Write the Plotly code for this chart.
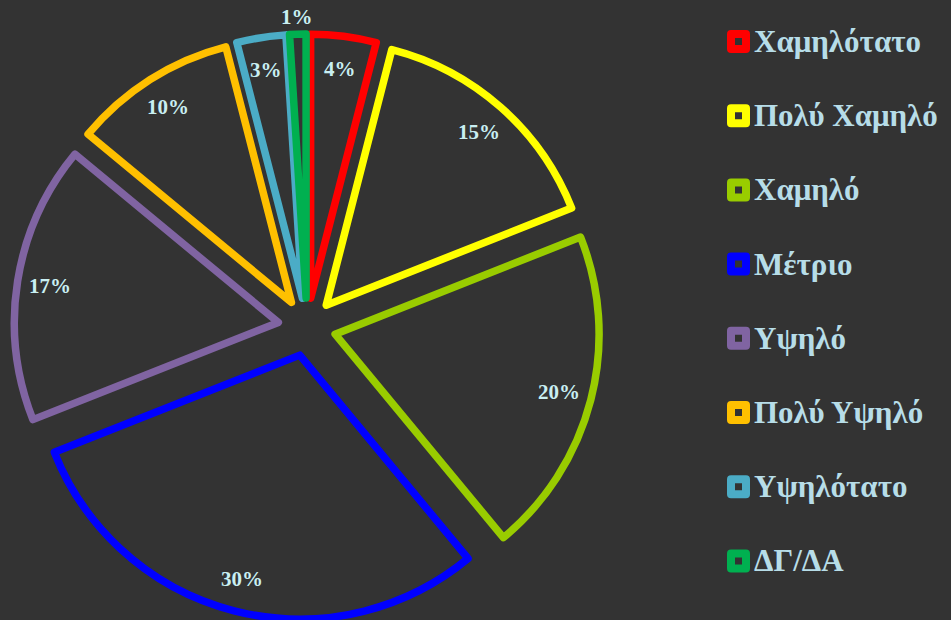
import math
import plotly.graph_objects as go

# Distribution of responses by level
categories = ["Χαμηλότατο", "Πολύ Χαμηλό", "Χαμηλό", "Μέτριο",
              "Υψηλό", "Πολύ Υψηλό", "Υψηλότατο", "ΔΓ/ΔΑ"]
values = [4, 15, 20, 30, 17, 10, 3, 1]
colors = ["#ff0000", "#ffff00", "#99cc00", "#0000ff",
          "#8064a2", "#ffc000", "#4bacc6", "#00b050"]

# Page / styling constants
W, H = 951, 620
BG = "#333333"
LABEL_COLOR = "#c9eff2"
LEGEND_COLOR = "#b7dde8"
FONT = "Liberation Serif"
PULL = 0.11
M_T = 34
DOM_X = (14 / W, 600 / W)

fig = go.Figure()
fig.add_trace(go.Pie(
    labels=categories,
    values=values,
    sort=False,
    direction="clockwise",
    rotation=0,
    pull=[PULL] * len(values),
    textinfo="none",
    hoverinfo="label+percent",
    marker=dict(colors=[BG] * len(values),
                line=dict(color=colors, width=7.5)),
    domain=dict(x=list(DOM_X), y=[0, 1]),
    showlegend=False,
))

# Pie geometry as Plotly lays it out (pixels)
plot_h = H - M_T
box_w = W * (DOM_X[1] - DOM_X[0])
r = min(box_w, plot_h) / (2 + 2 * PULL)
cx = W * (DOM_X[0] + DOM_X[1]) / 2
cy = M_T + plot_h / 2


def to_paper(px, py):
    return px / W, (H - py) / plot_h


total = sum(values)
annotations = []
cum = 0
for v in values:
    mid = (cum + v / 2) / total * 2 * math.pi
    cum += v
    frac = 0.875 if v / total >= 0.02 else 1.065
    dist = PULL * r + frac * r
    px = cx + dist * math.sin(mid)
    py = cy - dist * math.cos(mid)
    x, y = to_paper(px, py)
    annotations.append(dict(
        x=x, y=y, xref="paper", yref="paper", showarrow=False,
        text=f"{round(v / total * 100)}%",
        xanchor="center", yanchor="middle",
        font=dict(family=FONT, size=21, color=LABEL_COLOR, weight="bold"),
    ))

# Hand-drawn legend: hollow squares plus labels
shapes = []
leg_x, leg_y0, leg_step, half = 738.5, 41.5, 74.2, 7.5
for i, (name, col) in enumerate(zip(categories, colors)):
    yc = leg_y0 + i * leg_step
    x0, y0 = to_paper(leg_x - half, yc + half)
    x1, y1 = to_paper(leg_x + half, yc - half)
    shapes.append(dict(type="rect", xref="paper", yref="paper",
                       x0=x0, y0=y0, x1=x1, y1=y1,
                       line=dict(color=col, width=8), fillcolor=BG))
    tx, ty = to_paper(752, yc)
    annotations.append(dict(
        x=tx, y=ty, xref="paper", yref="paper", showarrow=False,
        text=name, xanchor="left", yanchor="middle",
        font=dict(family=FONT, size=31, color=LEGEND_COLOR, weight="bold"),
    ))

fig.update_layout(
    width=W, height=H,
    paper_bgcolor=BG, plot_bgcolor=BG,
    margin=dict(l=0, r=0, t=M_T, b=0),
    annotations=annotations,
    shapes=shapes,
    showlegend=False,
)

fig.write_html(
    "out.html",
    config={"displayModeBar": False},
    post_script=(
        "document.querySelectorAll('.slice path, .shapelayer path')"
        ".forEach(function(p){p.style.strokeLinejoin='round';});"
    ),
)
